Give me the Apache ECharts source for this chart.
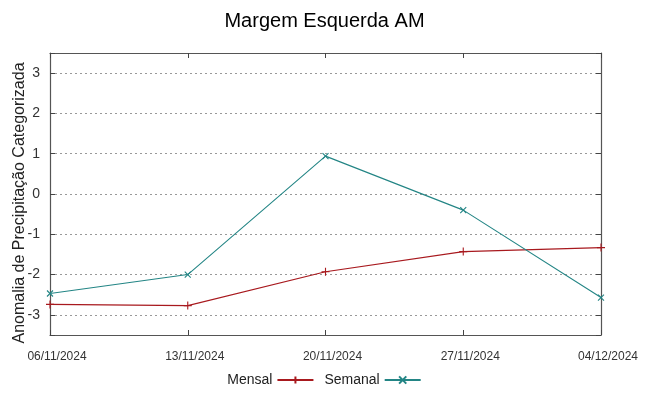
<!DOCTYPE html>
<html><head><meta charset="utf-8">
<script src="https://cdn.jsdelivr.net/npm/echarts@6/dist/echarts.min.js"></script>
<style>html,body{margin:0;padding:0;background:#fff}#c{width:649px;height:396px}</style>
</head><body><div id="c"></div>
<script>
var categories = ['06/11/2024','13/11/2024','20/11/2024','27/11/2024','04/12/2024'];
var mensal = [-2.74, -2.77, -1.93, -1.43, -1.33];
var semanal = [-2.47, -2.00, 0.94, -0.40, -2.57];
var titleText = 'Margem Esquerda AM';
var yName = 'Anomalia de Precipitação Categorizada';
var mensalColor = '#a8191e';
var semanalColor = '#238585';
var FONT = 'Liberation Sans';
var chart = echarts.init(document.getElementById('c'), null, {renderer:'canvas'});
function yl(v){ return (Math.abs(v - Math.round(v)) < 1e-6) ? String(v) : ''; }
var axLine = {show:true,onZero:false,lineStyle:{color:'#555',width:1.2}};
var tick = {show:true,inside:true,length:5,lineStyle:{color:'#444',width:1}};
chart.setOption({
  animation:false,
  textStyle:{fontFamily:FONT},
  title:{text:titleText,left:'center',top:6,textStyle:{fontFamily:FONT,fontSize:20,fontWeight:'normal',color:'#000'}},
  grid:{left:50,right:48,top:53,bottom:61,outerBoundsMode:'none',containLabel:false,show:false},
  legend:{bottom:4,left:'center',align:'right',itemWidth:36,itemHeight:9,itemGap:10,
    textStyle:{fontFamily:FONT,fontSize:14,color:'#222'},
    data:[{name:'Mensal'},{name:'Semanal'}]},
  xAxis:[{type:'category',data:categories,boundaryGap:false,
    axisLine:axLine,axisTick:tick,
    axisLabel:{fontSize:12,color:'#333',margin:16,padding:[0,0,0,14],fontFamily:FONT},splitLine:{show:false}},
   {type:'category',data:categories,boundaryGap:false,position:'top',axisLine:axLine,
    axisTick:tick,axisLabel:{show:false}}],
  yAxis:[{type:'value',min:-3.5,max:3.5,
    name:yName,nameLocation:'middle',nameGap:22,nameMoveOverlap:false,
    nameTextStyle:{fontFamily:FONT,fontSize:16,color:'#222',padding:[0,18,0,0]},
    axisLine:axLine,axisTick:tick,
    axisLabel:{formatter:yl,fontSize:14,color:'#333',margin:10,fontFamily:FONT},
    splitLine:{show:true,lineStyle:{color:'#999',type:[2,3],width:1}}},
   {type:'value',min:-3.5,max:3.5,position:'right',axisLine:axLine,
    axisTick:tick,axisLabel:{show:false},splitLine:{show:false}}],
  series:[
   {name:'Mensal',type:'line',data:mensal,symbol:'path://M5,0L5,10M0,5L10,5',symbolSize:8,
    lineStyle:{color:mensalColor,width:1.1},itemStyle:{color:'rgba(0,0,0,0)',borderColor:mensalColor,borderWidth:1.1},
    emphasis:{disabled:true}},
   {name:'Semanal',type:'line',data:semanal,symbol:'path://M0,0L10,10M10,0L0,10',symbolSize:6,
    lineStyle:{color:semanalColor,width:1.1},itemStyle:{color:'rgba(0,0,0,0)',borderColor:semanalColor,borderWidth:1.1},
    emphasis:{disabled:true}}
  ]
});
</script></body></html>
